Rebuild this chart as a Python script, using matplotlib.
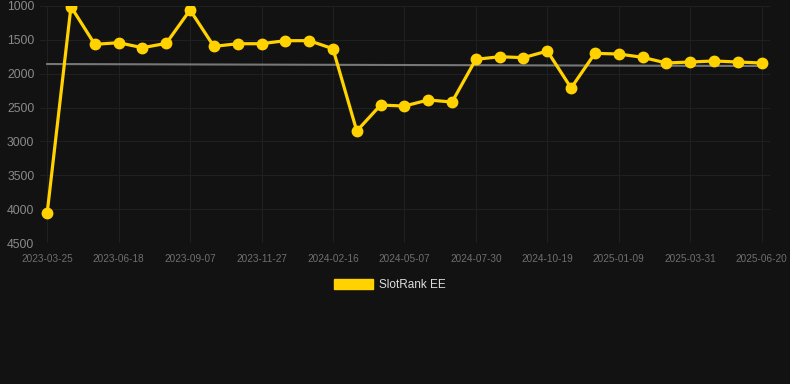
import numpy as np
import matplotlib
matplotlib.use("Agg")
import matplotlib.pyplot as plt
from matplotlib.patches import Patch

# rank values (lower = better, axis inverted)
ranks = [4060, 1010, 1566, 1542, 1616, 1552, 1059, 1596, 1557, 1557,
         1512, 1512, 1631, 2846, 2463, 2477, 2388, 2418, 1788, 1749,
         1763, 1665, 2211, 1699, 1709, 1758, 1842, 1827, 1812, 1827, 1842]
tick_labels = ["2023-03-25", "2023-06-18", "2023-09-07", "2023-11-27",
               "2024-02-16", "2024-05-07", "2024-07-30", "2024-10-19",
               "2025-01-09", "2025-03-31", "2025-06-20"]
trend = [1857, 1886]

bg = "#121212"
gold = "#FFD200"

plt.rcParams['font.family'] = ['Liberation Sans', 'DejaVu Sans']

fig = plt.figure(figsize=(7.9, 3.84), dpi=100, facecolor=bg)
ax = fig.add_axes([40/790, 1 - 243/384, 730/790, 237/384])
ax.set_facecolor(bg)

x = np.arange(len(ranks))
ax.plot([x[0], x[-1]], trend, color="#777777", lw=1.5, zorder=2)
ax.plot(x, ranks, color=gold, lw=2.3, marker="o", ms=7.5, zorder=3)

ax.set_ylim(4500, 1000)
ax.set_yticks([1000, 1500, 2000, 2500, 3000, 3500, 4000, 4500])
ax.set_xlim(-0.3, 30.35)
ax.set_xticks(x[::3])
ax.set_xticklabels(tick_labels)

ax.grid(True, color="#202020", lw=0.8)
for s in ax.spines.values():
    s.set_visible(False)
ax.tick_params(axis="y", colors="#8a8a8a", labelsize=8.8, length=0, pad=4)
ax.tick_params(axis="x", colors="#6f6f6f", labelsize=7.2, length=0, pad=8)

fig.legend(handles=[Patch(color=gold, label="SlotRank EE")],
           loc="center", bbox_to_anchor=(389.5/790, 1 - 285/384), frameon=False,
           fontsize=8.5, labelcolor="#dddddd", handlelength=3.3, handleheight=0.9,
           handletextpad=0.5)

fig.savefig("out.png", dpi=100, facecolor=bg)
